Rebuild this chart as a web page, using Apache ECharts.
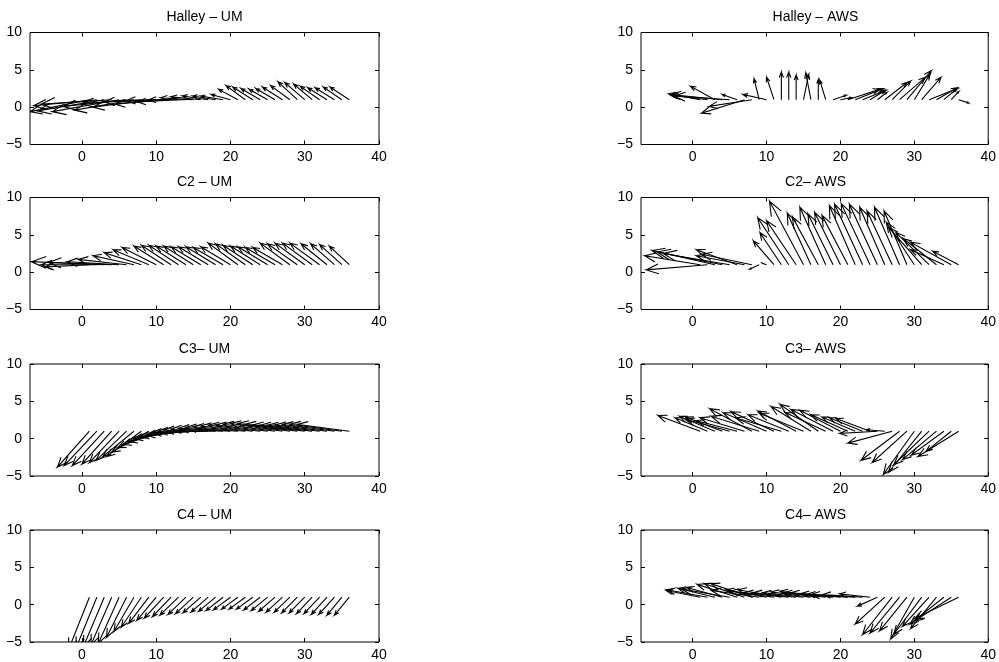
<!DOCTYPE html>
<html>
<head>
<meta charset="utf-8">
<script src="https://cdn.jsdelivr.net/npm/echarts@6/dist/echarts.min.js"></script>
<style>
  html, body { margin: 0; padding: 0; background: #fff; }
  #chart { width: 999px; height: 662px; }
</style>
</head>
<body>
<div id="chart"></div>
<script>
// Tick values shared by every panel
const xTicks = [0, 10, 20, 30, 40];
const yTicks = [-5, 0, 5, 10];
// Arrows start at (k, baseline) for k = 1..36
const baseline = 1;

// Halley – UM
const halleyUmU = [-8, -8.5, -9, -9.5, -9, -8.5, -8, -8, -7.5, -7, -6.5, -6, -5.5,
  -5, -4.4, -4, -3.5, -3.1, -3, -2.6,
  -2.6, -2.6, -2.7, -2.6, -2.5, -2.6, -2.7, -2.6, -2.6, -2.7, -2.5, -2.6, -2.6, -2.6, -2.5, -2.6];
const halleyUmV = [-1.6, -0.8, -1.5, -0.6, -1.6, -0.9, -1.4, -0.5, -1.0, -0.3, -0.6, -0.1, -0.3,
  0, 0.25, 0.4, 0.5, 0.5, 0.5, 0.7,
  1.4, 1.9, 1.7, 1.5, 1.4, 1.5, 1.7, 1.9, 2.4, 2.3, 2.1, 1.8, 1.6, 1.6, 1.7, 1.7];

// C2 – UM
const c2UmU = [-6.0, -7.5, -9.8, -8.5, -7.0, -6.5, -5.5, -5.0, -4.8, -4.6,
  -4.0, -4.0, -4.0, -4.0, -4.0, -4.0, -4.0, -4.0, -4.0, -4.0, -4.0, -4.0, -4.0,
  -4.0, -4.0, -4.0, -4.0, -4.0, -4.0, -4.0, -4.0, -4.0, -3.5, -3.2, -3.0, -2.7];
const c2UmV = [-0.3, 0.0, 0.4, 0.3, 0.4, 0.7, 1.2, 1.6, 2.0, 2.3,
  2.5, 2.6, 2.6, 2.5, 2.5, 2.4, 2.4, 2.4, 2.3, 2.4, 2.9, 2.8, 2.6,
  2.5, 2.4, 2.3, 2.3, 2.9, 2.8, 2.9, 2.9, 2.9, 2.8, 2.8, 2.7, 2.5];

// C3 – UM
const c3UmU = [-4.3, -4.4, -4.3, -4.0, -4.0, -4.1, -4.2, -4.7, -5.0, -5.2, -5.5, -5.7,
  -6.0, -6.2, -6.4, -6.6, -6.8, -7, -7, -7, -7, -7, -7, -7,
  -7, -7, -7, -7, -7, -7, -7, -7, -7, -7, -7, -7];
const c3UmV = [-4.8, -4.6, -4.6, -4.4, -4.2, -3.9, -3.4, -3.4, -2.8, -2.2, -1.8, -1.4,
  -1.0, -0.7, -0.5, -0.2, 0.0, 0.15, 0.3, 0.4, 0.5, 0.6, 0.7, 0.8,
  0.85, 0.95, 1.05, 1.05, 0.95, 0.85, 0.8, 0.8, 0.85, 0.9, 0.95, 0.9];

// C4 – UM
const c4UmU = [-2.8, -2.8, -2.8, -2.8, -2.8, -2.7, -2.7, -2.7, -2.7, -2.6, -2.6, -2.5,
  -2.5, -2.4, -2.4, -2.4, -2.3, -2.3, -2.3, -2.3, -2.2, -2.2, -2.2, -2.2,
  -2.2, -2.2, -2.2, -2.1, -2.1, -2.1, -2.1, -2.1, -2.1, -2.1, -2.0, -2.0];
const c4UmV = [-7.0, -6.8, -6.6, -6.4, -6.2, -5.4, -4.6, -4.0, -3.5, -3.1, -2.8, -2.6,
  -2.4, -2.3, -2.2, -2.1, -2.0, -1.9, -1.8, -1.7, -1.6, -1.6, -1.6, -1.7,
  -1.8, -1.9, -2.0, -2.0, -2.1, -2.1, -2.2, -2.2, -2.3, -2.3, -2.4, -2.4];

// Halley – AWS
const halleyAwsU = [-4.2, -5.0, -3.3, -7.0, -7.5, -2.0, -5.8, -5.8, -0.7, -3.2, -1.0, 0,
  0, 0, 0.7, -0.7, 0, -0.8, 1.8, 1.5, 4.3, 3.8, 3.2, 2.0,
  1.3, 3.0, 2.5, 3.5, 3.3, 2.1, 2.6, 3.8, 2.8, 1.8, 1.0, 1.4];
const halleyAwsV = [0.8, 0.6, 1.8, 0.7, 0.5, 0.7, -1.8, -0.9, 2.8, 0.7, 3.0, 3.7,
  3.7, 3.3, 3.4, 3.6, 2.7, 2.6, 0.6, 0.3, 1.4, 1.5, 1.3, 1.2,
  1.0, 2.3, 2.5, 3.0, 3.9, 3.4, 3.0, 1.5, 1.6, 1.5, 1.1, -0.45];

// C2 – AWS
const c2AwsU = [-7.5, -8.3, -8.5, -8.8, -9.0, -5.5, -6.5, -6.8, -1.3, -0.6, -2.8, -2.9,
  -4.2, -4.0, -4.6, -3.2, -3.5, -3.5, -3.4, -3.5, -3.5, -3.5, -3.8, -3.9,
  -3.8, -3.4, -3.4, -3.4, -3.1, -3.8, -4.5, -4.5, -4.5, -4.5, -5.5, -3.5];
const c2AwsV = [1.2, -0.7, 1.9, 1.7, 1.5, 2.0, 1.2, 1.4, -0.6, 0.2, 3.2, 4.3,
  6.3, 5.9, 8.5, 6.9, 6.4, 7.7, 6.8, 7.0, 6.6, 7.9, 8.1, 8.2,
  8.1, 7.7, 7.2, 7.7, 7.2, 5.7, 5.0, 4.3, 3.5, 2.0, 3.0, 1.8];

// C3 – AWS
const c3AwsU = [-5.7, -4.4, -4.8, -5.0, -6.0, -5.5, -6.0, -5.7, -6.5, -5.9, -5.8, -6.2,
  -5.5, -5.2, -6.0, -5.4, -5.2, -5.5, -5.7, -5.5, -5.0, -4.5, -4.5, -4.6,
  -5.1, -2.5, -6.0, -5.2, -4.7, -4.2, -4.5, -4.8, -4.6, -4.4, -3.4, -5.5];
const c3AwsV = [2.1, 1.8, 2.0, 1.9, 1.6, 1.4, 1.8, 3.0, 2.0, 2.5, 2.6, 1.8,
  2.2, 2.7, 2.4, 3.3, 3.6, 2.5, 2.9, 2.8, 2.2, 1.9, 1.8, 1.7,
  -0.3, 0.2, -1.6, -3.9, -4.2, -5.8, -5.5, -4.5, -3.8, -3.2, -2.7, -3.4];

// C4 – AWS
const c4AwsU = [-4.6, -5.5, -5.0, -4.8, -6.5, -5.4, -5.4, -5.5, -6.5, -5.5, -6.0, -5.9,
  -6.0, -5.8, -5.5, -5.4, -5.2, -5.7, -5.7, -5.3, -5.5, -6.0, -5.4, -4.1,
  -2.7, -4.0, -4.0, -4.0, -3.7, -3.2, -3.8, -3.6, -3.5, -4.6, -5.0, -6.0];
const c4AwsV = [0.9, 1.0, 1.2, 1.3, 1.1, 1.7, 1.8, 1.8, 0.9, 1.0, 0.8, 1.0,
  0.6, 0.6, 0.6, 0.7, 0.8, 0.6, 0.6, 0.5, 0.4, 0.35, 0.35, 0.45,
  -1.2, -3.6, -5.0, -4.8, -4.5, -5.6, -5.0, -3.9, -4.2, -3.6, -3.2, -2.9];

const panels = [
  { title: 'Halley \u2013 UM', u: halleyUmU, v: halleyUmV, col: 0, row: 0 },
  { title: 'C2 \u2013 UM', u: c2UmU, v: c2UmV, col: 0, row: 1 },
  { title: 'C3\u2013 UM', u: c3UmU, v: c3UmV, col: 0, row: 2 },
  { title: 'C4 \u2013 UM', u: c4UmU, v: c4UmV, col: 0, row: 3 },
  { title: 'Halley \u2013 AWS', u: halleyAwsU, v: halleyAwsV, col: 1, row: 0 },
  { title: 'C2\u2013 AWS', u: c2AwsU, v: c2AwsV, col: 1, row: 1 },
  { title: 'C3\u2013 AWS', u: c3AwsU, v: c3AwsV, col: 1, row: 2 },
  { title: 'C4\u2013 AWS', u: c4AwsU, v: c4AwsV, col: 1, row: 3 }
];

const colLeft = [30, 641];
const rowTop = [32.5, 197.5, 364, 530];
const plotW = 349, plotH = 112;
const font = 'Liberation Sans, Arial, Helvetica, sans-serif';

// Feather-style arrow: shaft plus two barbs, expressed relative to the vector (u + iv)
const arrowX = [0, 1, 0.8, 1, 0.8];
const arrowY = [0, 0, 0.08, 0, -0.08];

function renderArrow(params, api) {
  const k = api.value(0), u = api.value(1), v = api.value(2);
  const pts = arrowX.map((a, j) => {
    const b = arrowY[j];
    return api.coord([k + a * u - b * v, baseline + a * v + b * u]);
  });
  const cs = params.coordSys;
  return {
    type: 'group',
    clipPath: { type: 'rect', shape: { x: cs.x, y: cs.y, width: cs.width, height: cs.height } },
    children: [{
      type: 'polyline',
      shape: { points: pts },
      style: { stroke: '#000', fill: null, lineWidth: 1.1 }
    }]
  };
}

const minusFmt = (val) => String(val).replace('-', '\u2212');

const option = { animation: false, grid: [], xAxis: [], yAxis: [], series: [], graphic: [] };

panels.forEach((p, k) => {
  const left = colLeft[p.col], top = rowTop[p.row];
  option.grid.push({
    left: left, top: top, width: plotW, height: plotH,
    show: true, borderColor: '#000', borderWidth: 1, backgroundColor: 'transparent'
  });
  const tickStyle = { inside: true, length: 4, lineStyle: { color: '#000', width: 1 } };
  ['bottom', 'top'].forEach((pos) => {
    option.xAxis.push({
      gridIndex: k, type: 'value', position: pos, min: -7, max: 40,
      axisLine: { show: false, onZero: false },
      axisTick: Object.assign({ customValues: xTicks }, tickStyle),
      axisLabel: pos === 'bottom'
        ? { customValues: xTicks, color: '#000', fontSize: 14, fontFamily: font, margin: 6, formatter: minusFmt }
        : { show: false },
      splitLine: { show: false }
    });
  });
  ['left', 'right'].forEach((pos) => {
    option.yAxis.push({
      gridIndex: k, type: 'value', position: pos, min: yTicks[0], max: yTicks[yTicks.length - 1], interval: 5,
      axisLine: { show: false, onZero: false },
      axisTick: tickStyle,
      axisLabel: pos === 'left'
        ? { color: '#000', fontSize: 14, fontFamily: font, margin: 8, formatter: minusFmt }
        : { show: false },
      splitLine: { show: false }
    });
  });
  option.series.push({
    type: 'custom',
    xAxisIndex: 2 * k, yAxisIndex: 2 * k,
    renderItem: renderArrow,
    data: p.u.map((uu, j) => [j + 1, uu, p.v[j]]),
    silent: true
  });
  option.graphic.push({
    type: 'text', x: left + plotW / 2, y: top - 15,
    style: { text: p.title, fill: '#000', font: '14px ' + font, textAlign: 'center', textVerticalAlign: 'middle' }
  });
});

const chart = echarts.init(document.getElementById('chart'), null, { renderer: 'canvas' });
chart.setOption(option);
</script>
</body>
</html>
